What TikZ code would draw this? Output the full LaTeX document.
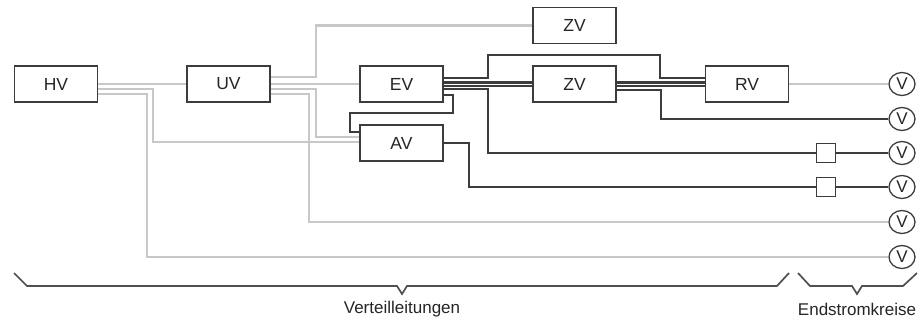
\documentclass[tikz,border=0pt]{standalone}
\usepackage{fontspec}
\setmainfont{Liberation Sans}
\usetikzlibrary{shapes.geometric}
\definecolor{lg}{RGB}{200,200,200}
\definecolor{dk}{RGB}{60,60,60}
\begin{document}
\begin{tikzpicture}[x=1pt,y=-1pt,
  box/.style={draw=dk,line width=1.5pt,minimum width=83pt,minimum height=36pt,inner sep=0pt,font=\fontsize{17.5}{20}\selectfont,text=black!85},
  vc/.style={ellipse,draw=dk,line width=1.3pt,minimum width=26pt,minimum height=23pt,inner sep=0pt,font=\fontsize{17}{18}\selectfont,text=black!85},
  sq/.style={draw=dk,line width=1.3pt,minimum size=19pt,inner sep=0pt},
  gl/.style={lg,line width=2.2pt},
  dl/.style={dk,line width=2.2pt},
  br/.style={dk!90,line width=1.7pt},
  lab/.style={font=\fontsize{17}{20}\selectfont,text=black!85}]
\useasboundingbox (0,0) rectangle (920,324);
\fill[white] (0,0) rectangle (920,324);
% boxes
\node[box] (hv)  at (56,84)    {HV};
\node[box] (uv)  at (228.5,84) {UV};
\node[box] (ev)  at (401.5,84) {EV};
\node[box] (av)  at (401.5,143) {AV};
\node[box] (zvt) at (574.5,25.5) {ZV};
\node[box] (zv)  at (574.5,84) {ZV};
\node[box] (rv)  at (747,84)   {RV};
% consumers
\node[vc] (v1) at (902,84)  {V};
\node[vc] (v2) at (902,119) {V};
\node[vc] (v3) at (902,153) {V};
\node[vc] (v4) at (902,187) {V};
\node[vc] (v5) at (902,222) {V};
\node[vc] (v6) at (902,257) {V};
\node[sq] (s3) at (826,153) {};
\node[sq] (s4) at (826,187) {};
% grey lines from HV
\draw[gl] (hv.east) -- (uv.west);
\draw[gl] ([yshift=-5pt]hv.east) -- (153,89) |- ([yshift=1pt]av.west);
\draw[gl] ([yshift=-10pt]hv.east) -- (147,94) |- (v6.west);
% grey lines from UV
\draw[gl] ([yshift=7pt]uv.east) -- (316,77) |- (zvt.west);
\draw[gl] (uv.east) -- (ev.west);
\draw[gl] ([yshift=-5pt]uv.east) -- (316,89) |- ([yshift=6pt]av.west);
\draw[gl] ([yshift=-10pt]uv.east) -- (309,94) |- (v5.west);
% grey line RV -> V
\draw[lg,line width=1.8pt] (rv.east) -- (v1.west);
% dark lines from EV
\draw[dl] ([yshift=6pt]ev.east) -- (488,78) -- (488,55) -- (660,55) -- (660,78) -- ([yshift=6pt]rv.west);
\draw[dl] ([yshift=1.6pt]ev.east) -- ([yshift=1.6pt]zv.west);
\draw[dl] ([yshift=-1.6pt]ev.east) -- ([yshift=-1.6pt]zv.west);
\draw[dl] ([yshift=1.6pt]zv.east) -- ([yshift=1.6pt]rv.west);
\draw[dl] ([yshift=-1.6pt]zv.east) -- ([yshift=-1.6pt]rv.west);
\draw[dl] ([yshift=-6pt]zv.east) -- (661,90) |- (v2.west);
\draw[dl] ([yshift=-5pt]ev.east) -- (488,89) |- (s3.west);
\draw[dl] (s3.east) -- (v3.west);
\draw[dl] ([yshift=-11pt]ev.east) -- (453,95) -- (453,113) -- (350,113) |- ([yshift=11pt]av.west);
\draw[dl] (av.east) -- (469,143) |- (s4.west);
\draw[dl] (s4.east) -- (v4.west);
% braces
\draw[br,line join=miter] (14,273) -- (27,286) -- (397,286) -- (402,294) -- (407,286) -- (777,286) -- (789,273);
\draw[br,line join=miter] (798,273) -- (810,286) -- (852,286) -- (857,294) -- (862,286) -- (903,286) -- (917,273);
\node[lab] (l1) at (402,309) {Verteilleitungen};
\node[lab] (l2) at (857,309) {Endstromkreise};
\end{tikzpicture}
\end{document}
